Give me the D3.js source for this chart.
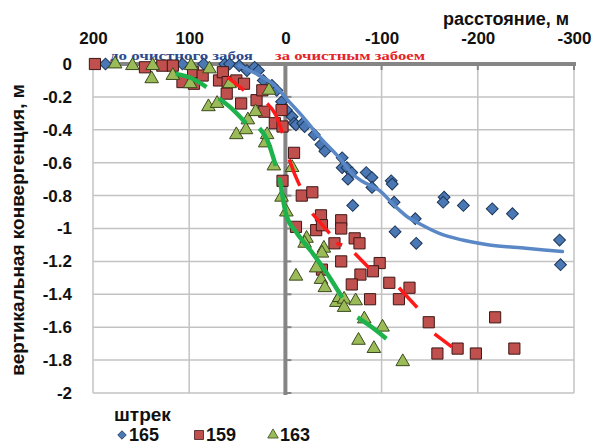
<!DOCTYPE html>
<html>
<head>
<meta charset="utf-8">
<script src="https://cdn.jsdelivr.net/npm/d3@7"></script>
<style>
    body { margin: 0; background: #fff; }
    svg { display: block; font-family: "Liberation Sans", Arial, sans-serif; }
</style>
</head>
<body>
<div id="chart"></div>
<script>
// distance (m) ticks and convergence (m) ticks
const xTicks = [200, 100, 0, -100, -200, -300]
const yTicks = [0, -0.2, -0.4, -0.6, -0.8, -1, -1.2, -1.4, -1.6, -1.8, -2]

// measured points [distance, convergence]
const shtrek165 = [
    [187, 0], [107, 0], [85, 0], [63, 0], [58, 0], [48, -0.01], [40, -0.04], [32, -0.02], [28, -0.04],
    [23, -0.1], [14, -0.13], [9, -0.16], [4, -0.23], [-1, -0.28], [-7, -0.32], [-9, -0.36], [-11, -0.37],
    [-18, -0.36], [-20, -0.38], [-30, -0.43], [-37, -0.49], [-41, -0.53], [-59, -0.57], [-59, -0.63],
    [-64, -0.63], [-69, -0.66], [-65, -0.7], [-84, -0.66], [-90, -0.69], [-90, -0.75], [-110, -0.71],
    [-111, -0.73], [-113, -0.84], [-70, -0.86], [-114, -1.02], [-135, -0.94], [-136, -1.09],
    [-165, -0.81], [-164, -0.84], [-185, -0.86], [-215, -0.88], [-236, -0.91], [-285, -1.07], [-286, -1.22]
]
const shtrek159 = [
    [198, 0], [146, -0.02], [128, -0.01], [117, -0.01], [107, -0.11], [96, -0.05], [95, -0.12], [86, -0.07],
    [69, -0.1], [65, -0.05], [60, -0.11], [61, -0.18], [51, -0.1], [43, -0.12], [46, -0.24], [30, -0.22],
    [24, -0.16], [22, -0.29], [11, -0.36], [3, -0.38], [4, -0.28], [-9, -0.54], [3, -0.71], [-17, -0.8],
    [-28, -0.78], [-11, -0.99], [-32, -1.01], [-37, -0.92], [-38, -0.98], [-58, -0.95], [-58, -1.0],
    [-51, -1.09], [-72, -1.06], [-77, -1.09], [-58, -1.2], [-38, -1.25], [-98, -1.21], [-91, -1.26],
    [-78, -1.28], [-69, -1.34], [-108, -1.33], [-129, -1.36], [-88, -1.43], [-118, -1.43], [-149, -1.57],
    [-218, -1.54], [-158, -1.76], [-179, -1.73], [-198, -1.76], [-238, -1.73]
]
const shtrek163 = [
    [177, 0], [159, -0.01], [138, -0.01], [139, -0.09], [117, -0.07], [98, -0.01], [99, -0.12], [79, -0.03],
    [80, -0.26], [71, -0.24], [58, -0.12], [39, -0.34], [31, -0.29], [51, -0.43], [41, -0.4], [19, -0.43],
    [21, -0.48], [17, -0.16], [12, -0.62], [-7, -0.63], [4, -0.81], [-1, -0.9], [-22, -1.06], [-20, -1.09],
    [-40, -1.12], [-11, -1.29], [-32, -1.24], [-38, -1.15], [-37, -1.31], [-41, -1.36], [-53, -1.45],
    [-56, -1.42], [-61, -1.43], [-61, -1.48], [-73, -1.44], [-82, -1.55], [-101, -1.6], [-76, -1.68],
    [-92, -1.73], [-122, -1.81]
]

// trend lines
const trend165 = [
    [48, -0.01], [27, -0.07], [11, -0.13], [-1, -0.21], [-18, -0.32], [-35, -0.44], [-56, -0.57],
    [-70, -0.67], [-79, -0.71], [-98, -0.77], [-115, -0.87], [-127, -0.93], [-139, -0.97],
    [-160, -1.03], [-184, -1.07], [-212, -1.1], [-250, -1.12], [-288, -1.14]
]
const trend159 = [
    [[60, -0.08], [43, -0.16]],
    [[19, -0.24], [10, -0.31], [3, -0.42]],
    [[-4, -0.58], [-9, -0.66], [-15, -0.74]],
    [[-28, -0.91], [-46, -1.03]],
    [[-53, -1.09], [-59, -1.1]],
    [[-72, -1.15], [-87, -1.24]],
    [[-118, -1.36], [-137, -1.48]],
    [[-155, -1.64], [-173, -1.72]]
]
const trend163 = [
    [[114, -0.06], [98, -0.085], [82, -0.14]],
    [[69, -0.21], [56, -0.27], [41, -0.36]],
    [[27, -0.39], [19, -0.46], [10, -0.62]],
    [[6, -0.69], [-1, -0.92], [-11, -1.02], [-27, -1.14], [-44, -1.28], [-59, -1.42]],
    [[-75, -1.54], [-90, -1.6], [-105, -1.67]]
]

const legendNames = ["165", "159", "163"]

const w = 592
const h = 445
const plotLeft = 93
const plotRight = 574
const plotTop = 64
const plotBottom = 393

const svg = d3.select("#chart")
    .append("svg")
    .attr("width", w)
    .attr("height", h)

const xScale = d3.scaleLinear().domain([200, -300]).range([plotLeft, plotRight])
const yScale = d3.scaleLinear().domain([0, -2]).range([plotTop, plotBottom])

// grid
svg.append("g")
    .selectAll("line")
    .data(yTicks)
    .join("line")
    .attr("x1", plotLeft)
    .attr("x2", plotRight)
    .attr("y1", (d) => yScale(d))
    .attr("y2", (d) => yScale(d))
    .attr("stroke", "#c3c3c3")
    .attr("stroke-width", 1.5)
svg.append("g")
    .selectAll("line")
    .data(xTicks)
    .join("line")
    .attr("x1", (d) => xScale(d))
    .attr("x2", (d) => xScale(d))
    .attr("y1", plotTop)
    .attr("y2", plotBottom)
    .attr("stroke", "#c3c3c3")
    .attr("stroke-width", 1.5)

// thick axis lines with small ticks
const axisColor = "#858585"
svg.append("g")
    .selectAll("line")
    .data(xTicks.slice(1))
    .join("line")
    .attr("x1", (d) => xScale(d))
    .attr("x2", (d) => xScale(d))
    .attr("y1", plotTop)
    .attr("y2", plotTop + 6)
    .attr("stroke", axisColor)
    .attr("stroke-width", 2)
svg.append("g")
    .selectAll("line")
    .data(yTicks)
    .join("line")
    .attr("x1", xScale(0))
    .attr("x2", xScale(0) + 6)
    .attr("y1", (d) => yScale(d))
    .attr("y2", (d) => yScale(d))
    .attr("stroke", axisColor)
    .attr("stroke-width", 2)
svg.append("line")
    .attr("x1", plotLeft)
    .attr("x2", plotRight + 2)
    .attr("y1", yScale(0))
    .attr("y2", yScale(0))
    .attr("stroke", axisColor)
    .attr("stroke-width", 4)
svg.append("line")
    .attr("x1", xScale(0))
    .attr("x2", xScale(0))
    .attr("y1", plotTop - 2)
    .attr("y2", plotBottom + 2)
    .attr("stroke", axisColor)
    .attr("stroke-width", 4)

// tick labels
const xAxis = svg.append("g")
    .attr("transform", `translate(0, ${plotTop})`)
    .call(d3.axisTop(xScale).tickValues(xTicks).tickSize(0).tickPadding(20).tickFormat((d) => String(d)))
const yAxis = svg.append("g")
    .attr("transform", `translate(${plotLeft}, 0)`)
    .call(d3.axisLeft(yScale).tickValues(yTicks).tickSize(0).tickPadding(21).tickFormat((d) => String(d)))
xAxis.select(".domain").remove()
yAxis.select(".domain").remove()
svg.selectAll(".tick text")
    .attr("fill", "#111")
    .style("font-size", "17px")
    .style("font-weight", "bold")
    .style("font-family", "'Liberation Sans', Arial, sans-serif")

// axis titles
svg.append("text")
    .attr("x", 506)
    .attr("y", 25)
    .attr("text-anchor", "middle")
    .style("font-size", "18px")
    .style("font-weight", "bold")
    .attr("fill", "#111")
    .text("расстояние, м")
svg.append("text")
    .attr("transform", "translate(24, 230) rotate(-90)")
    .attr("text-anchor", "middle")
    .style("font-size", "19px")
    .style("font-weight", "bold")
    .attr("fill", "#111")
    .text("вертикальная конвергенция, м")

// notes above the plot
svg.append("text")
    .attr("x", 110)
    .attr("y", 60)
    .attr("textLength", 143)
    .attr("lengthAdjust", "spacingAndGlyphs")
    .style("font-family", "'Liberation Serif', 'Times New Roman', serif")
    .style("font-size", "13px")
    .style("font-weight", "bold")
    .attr("fill", "#2b4a8e")
    .text("до очистного забоя")
svg.append("text")
    .attr("x", 275)
    .attr("y", 60)
    .attr("textLength", 150)
    .attr("lengthAdjust", "spacingAndGlyphs")
    .style("font-family", "'Liberation Serif', 'Times New Roman', serif")
    .style("font-size", "13px")
    .style("font-weight", "bold")
    .attr("fill", "#e5232b")
    .text("за очистным забоем")

// markers
const diamond = d3.symbol().type(d3.symbolSquare).size(70)
const square = d3.symbol().type(d3.symbolSquare).size(125)
const triangle = d3.symbol().type(d3.symbolTriangle).size(80)

svg.append("g")
    .selectAll("path")
    .data(shtrek165)
    .join("path")
    .attr("d", diamond)
    .attr("transform", (d) => `translate(${xScale(d[0])}, ${yScale(d[1])}) rotate(45)`)
    .attr("fill", "#4a78b4")
    .attr("stroke", "#1d3558")
    .attr("stroke-width", 1)
svg.append("g")
    .selectAll("path")
    .data(shtrek159)
    .join("path")
    .attr("d", square)
    .attr("transform", (d) => `translate(${xScale(d[0])}, ${yScale(d[1])})`)
    .attr("fill", "#c0504d")
    .attr("stroke", "#3d1716")
    .attr("stroke-width", 1)
svg.append("g")
    .selectAll("path")
    .data(shtrek163)
    .join("path")
    .attr("d", triangle)
    .attr("transform", (d) => `translate(${xScale(d[0])}, ${yScale(d[1])})`)
    .attr("fill", "#9bbb59")
    .attr("stroke", "#3a4a1c")
    .attr("stroke-width", 1)

// trend lines
const line = d3.line()
    .x((d) => xScale(d[0]))
    .y((d) => yScale(d[1]))
    .curve(d3.curveMonotoneX)

svg.append("path")
    .datum(trend165)
    .attr("d", line)
    .attr("fill", "none")
    .attr("stroke", "#5a88c6")
    .attr("stroke-width", 3.5)
    .attr("stroke-linecap", "round")
svg.append("g")
    .selectAll("path")
    .data(trend159)
    .join("path")
    .attr("d", line)
    .attr("fill", "none")
    .attr("stroke", "#ff1a1a")
    .attr("stroke-width", 3.5)
svg.append("g")
    .selectAll("path")
    .data(trend163)
    .join("path")
    .attr("d", line)
    .attr("fill", "none")
    .attr("stroke", "#1db24b")
    .attr("stroke-width", 4.5)

// legend
svg.append("text")
    .attr("x", 114)
    .attr("y", 421)
    .style("font-size", "19px")
    .style("font-weight", "bold")
    .attr("fill", "#111")
    .text("штрек")

const legendX = [122, 199, 273]
const legendSym = [
    d3.symbol().type(d3.symbolSquare).size(36),
    d3.symbol().type(d3.symbolSquare).size(80),
    d3.symbol().type(d3.symbolTriangle).size(48)
]
const legendFill = ["#4a78b4", "#c0504d", "#9bbb59"]
const legendStroke = ["#1d3558", "#3d1716", "#3a4a1c"]

const legend = svg.append("g")
legend.selectAll("path")
    .data(legendNames)
    .join("path")
    .attr("d", (d, i) => legendSym[i]())
    .attr("transform", (d, i) => `translate(${legendX[i]}, 435)` + (i === 0 ? " rotate(45)" : ""))
    .attr("fill", (d, i) => legendFill[i])
    .attr("stroke", (d, i) => legendStroke[i])
    .attr("stroke-width", 0.8)
legend.selectAll("text")
    .data(legendNames)
    .join("text")
    .attr("x", (d, i) => legendX[i] + 7)
    .attr("y", 441)
    .style("font-size", "18px")
    .style("font-weight", "bold")
    .attr("fill", "#111")
    .text((d) => d)
</script>
</body>
</html>
